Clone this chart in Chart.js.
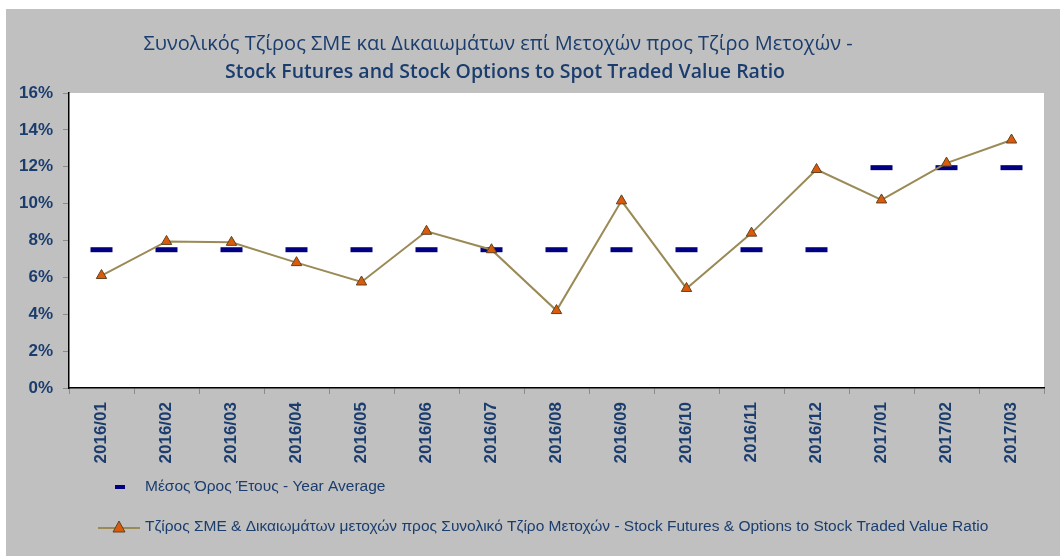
<!DOCTYPE html>
<html>
<head>
<meta charset="utf-8">
<script src="https://cdn.jsdelivr.net/npm/chart.js@4.4.1/dist/chart.umd.min.js"></script>
<style>
body{margin:0;background:#fff;}
#wrap{position:absolute;left:6px;top:9px;width:1054px;height:547px;background:#c0c0c0;}
</style>
</head>
<body>
<div id="wrap"><canvas id="chart"></canvas></div>
<script>
// data
const months=['2016/01','2016/02','2016/03','2016/04','2016/05','2016/06','2016/07','2016/08','2016/09','2016/10','2016/11','2016/12','2017/01','2017/02','2017/03'];
const ratio=[6.1,7.95,7.9,6.8,5.75,8.5,7.5,4.2,10.15,5.4,8.4,11.85,10.2,12.2,13.45];
const yearAvg=[7.5,7.5,7.5,7.5,7.5,7.5,7.5,7.5,7.5,7.5,7.5,7.5,11.95,11.95,11.95];
const yTicks=[0,2,4,6,8,10,12,14,16];

const titleLines=['Συνολικός Τζίρος ΣΜΕ και Δικαιωμάτων επί Μετοχών προς Τζίρο Μετοχών -','Stock Futures and Stock Options to Spot Traded Value Ratio'];
const seriesNames=['Μέσος Όρος Έτους - Year Average','Τζίρος ΣΜΕ & Δικαιωμάτων μετοχών προς Συνολικό Τζίρο Μετοχών - Stock Futures & Options to Stock Traded Value Ratio'];

const txt='#1b3d6e';
const lineCol='#9a8a55';
const triFill='#dc5a0c';
const triEdge='#5e4420';
const navy='#000080';

// title + legend are drawn by hand so they sit where the original has them
const extras={
    id:'extras',
    beforeDraw(c){
        const a=c.chartArea, ctx=c.ctx;
        ctx.save();
        ctx.fillStyle='#fff';
        ctx.fillRect(a.left,a.top,a.right-a.left,a.bottom-a.top);
        ctx.restore();
    },
    afterDraw(c){
        const ctx=c.ctx;
        ctx.save();
        ctx.fillStyle=txt;
        ctx.textAlign='center';
        ctx.textBaseline='alphabetic';
        ctx.font='20px "Open Sans"';
        ctx.fillText(titleLines[0],492,41);
        ctx.font='600 19.5px "Open Sans"';
        ctx.fillText(titleLines[1],499,69);

        // legend row 1
        ctx.fillStyle=navy;
        ctx.fillRect(109,476,10,4);
        // legend row 2
        ctx.strokeStyle=lineCol;
        ctx.lineWidth=2;
        ctx.beginPath();
        ctx.moveTo(92,519);ctx.lineTo(134,519);
        ctx.stroke();
        ctx.fillStyle=triFill;ctx.strokeStyle=triEdge;ctx.lineWidth=1;
        ctx.beginPath();
        ctx.moveTo(113,512);ctx.lineTo(119,523);ctx.lineTo(107,523);ctx.closePath();
        ctx.fill();ctx.stroke();

        ctx.fillStyle=txt;
        ctx.textAlign='left';
        ctx.textBaseline='middle';
        ctx.font='15.5px "Liberation Sans"';
        ctx.fillText(seriesNames[0],139,478);
        ctx.fillText(seriesNames[1],139,518);
        ctx.restore();
    }
};

let chart=document.getElementById("chart");

new Chart(chart,{
    type:'line',
    data:{
        labels:months,
        datasets:[
            {
                label:seriesNames[0],
                data:yearAvg,
                showLine:false,
                pointStyle:'line',
                pointRadius:11,
                pointHoverRadius:11,
                pointBorderWidth:5,
                borderColor:navy,
                backgroundColor:navy,
                order:2
            },
            {
                label:seriesNames[1],
                data:ratio,
                borderColor:lineCol,
                borderWidth:2,
                pointStyle:'triangle',
                pointRadius:6,
                pointHoverRadius:6,
                pointBackgroundColor:triFill,
                pointBorderColor:triEdge,
                pointBorderWidth:1,
                tension:0,
                order:1
            }
        ]
    },
    options:{
        responsive:true,
        maintainAspectRatio:false,
        animation:false,
        layout:{padding:{top:84,right:10,left:0,bottom:0}},
        plugins:{
            legend:{display:false},
            title:{display:false},
            tooltip:{enabled:false}
        },
        scales:{
            x:{
                offset:true,
                grid:{display:true,offset:true,drawOnChartArea:false,drawTicks:true,tickLength:6,color:'#8c8c8c'},
                border:{display:true,color:'#000',width:1.5},
                ticks:{
                    color:txt,
                    font:{family:'Liberation Sans',size:17,weight:'bold'},
                    minRotation:90,maxRotation:90,
                    padding:8,
                    autoSkip:false
                },
                afterFit(s){s.height=168;}
            },
            y:{
                min:0,max:16,
                afterBuildTicks(s){s.ticks=yTicks.map(v=>({value:v}));},
                grid:{display:true,drawOnChartArea:false,drawTicks:true,tickLength:6,color:'#8c8c8c'},
                border:{display:true,color:'#000',width:1.5},
                ticks:{
                    color:txt,
                    font:{family:'Liberation Sans',size:17,weight:'bold'},
                    padding:10,
                    callback:v=>v+'%'
                },
                afterFit(s){s.width=63;}
            }
        }
    },
    plugins:[extras]
});
</script>
</body>
</html>
